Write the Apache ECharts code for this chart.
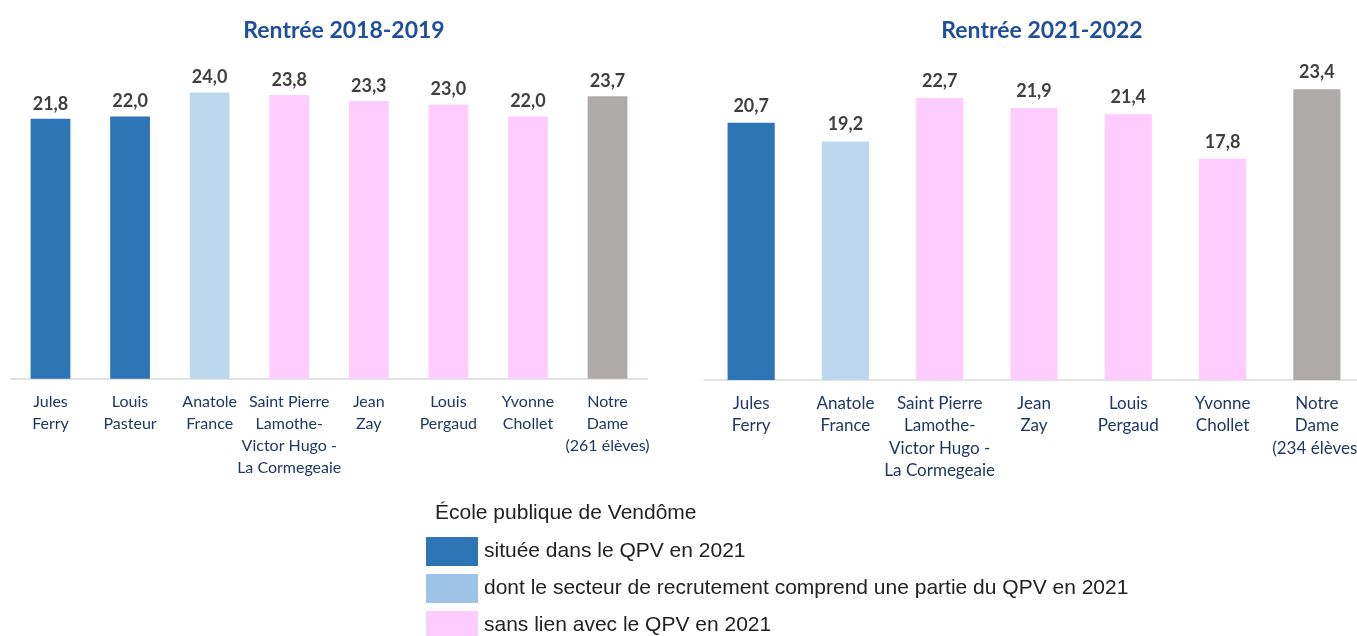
<!DOCTYPE html>
<html>
<head>
<meta charset="utf-8">
<script src="https://cdn.jsdelivr.net/npm/echarts@6/dist/echarts.min.js"></script>
<style>
  html, body { margin: 0; padding: 0; background: #fff; }
  #chart { width: 1357px; height: 636px; }
</style>
</head>
<body>
<div id="chart"></div>
<script>
// Rentrée 2018-2019
var cats2018 = ['Jules\nFerry', 'Louis\nPasteur', 'Anatole\nFrance', 'Saint Pierre\nLamothe-\nVictor Hugo -\nLa Cormegeaie', 'Jean\nZay', 'Louis\nPergaud', 'Yvonne\nChollet', 'Notre\nDame\n(261 élèves)'];
var vals2018 = [21.8, 22.0, 24.0, 23.8, 23.3, 23.0, 22.0, 23.7];
var groups2018 = ['qpv', 'qpv', 'partiel', 'sans', 'sans', 'sans', 'sans', 'prive'];

// Rentrée 2021-2022
var cats2021 = ['Jules\nFerry', 'Anatole\nFrance', 'Saint Pierre\nLamothe-\nVictor Hugo -\nLa Cormegeaie', 'Jean\nZay', 'Louis\nPergaud', 'Yvonne\nChollet', 'Notre\nDame\n(234 élèves)'];
var vals2021 = [20.7, 19.2, 22.7, 21.9, 21.4, 17.8, 23.4];
var groups2021 = ['qpv', 'partiel', 'sans', 'sans', 'sans', 'sans', 'prive'];

// légende
var legendTitle = 'École publique de Vendôme';
var legendItems = ['située dans le QPV en 2021', 'dont le secteur de recrutement comprend une partie du QPV en 2021', 'sans lien avec le QPV en 2021'];

// couleurs
var barColors = { qpv: '#2E75B6', partiel: '#BDD7EE', sans: '#FFCCFF', prive: '#AEAAAA' };
var legendColors = ['#2E75B6', '#9DC3E6', '#FFCCFF'];

var font = 'Lato, "Open Sans", sans-serif';
var legendFont = '21px "Liberation Sans", Arial, sans-serif';

function barData(vals, groups) {
    return vals.map(function (v, i) {
        return { value: v, itemStyle: { color: barColors[groups[i]] } };
    });
}

function xAxisOf(idx, cats, size, lh) {
    return {
        type: 'category',
        gridIndex: idx,
        data: cats,
        axisLine: { lineStyle: { color: '#D9D9D9', width: 1.5 } },
        axisTick: { length: 6, lineStyle: { color: '#D9D9D9', width: 1.5 } },
        axisLabel: {
            interval: 0,
            color: '#1F3864',
            fontFamily: font,
            fontSize: size,
            lineHeight: lh,
            margin: 12
        }
    };
}

function yAxisOf(idx) {
    return {
        type: 'value',
        gridIndex: idx,
        min: 0,
        max: 25,
        show: false,
        splitLine: { show: false }
    };
}

function seriesOf(idx, vals, groups, dist) {
    return {
        type: 'bar',
        xAxisIndex: idx,
        yAxisIndex: idx,
        barWidth: '50%',
        data: barData(vals, groups),
        label: {
            show: true,
            position: 'top',
            distance: dist,
            color: '#404040',
            fontFamily: font,
            fontWeight: 'bold',
            fontSize: 18,
            formatter: function (p) { return p.value.toFixed(1).replace('.', ','); }
        }
    };
}

// légende dessinée à la main
var graphics = [{
    type: 'text', x: 435, y: 513,
    style: { text: legendTitle, font: legendFont, fill: '#222', verticalAlign: 'middle' }
}];
legendItems.forEach(function (txt, i) {
    var y = 537 + i * 37;
    graphics.push({
        type: 'rect', shape: { x: 426, y: y, width: 52, height: 29 },
        style: { fill: legendColors[i] }
    });
    graphics.push({
        type: 'text', x: 484, y: y + 14,
        style: { text: txt, font: legendFont, fill: '#222', verticalAlign: 'middle' }
    });
});

var option = {
    animation: false,
    title: [
        { text: 'Rentrée 2018-2019', left: 339, top: 14, textAlign: 'center',
          textStyle: { color: '#1F4E9A', fontFamily: font, fontWeight: 'bold', fontSize: 23 } },
        { text: 'Rentrée 2021-2022', left: 1037, top: 14, textAlign: 'center',
          textStyle: { color: '#1F4E9A', fontFamily: font, fontWeight: 'bold', fontSize: 23 } }
    ],
    grid: [
        { left: 10.7, width: 636.6, top: 80.7, height: 298, outerBoundsMode: 'none' },
        { left: 704, width: 660, top: 69.4, height: 310.6, outerBoundsMode: 'none' }
    ],
    xAxis: [xAxisOf(0, cats2018, 16, 22), xAxisOf(1, cats2021, 17, 22.5)],
    yAxis: [yAxisOf(0), yAxisOf(1)],
    series: [seriesOf(0, vals2018, groups2018, 6), seriesOf(1, vals2021, groups2021, 8)],
    graphic: graphics
};

var chart = echarts.init(document.getElementById('chart'));
chart.setOption(option);
</script>
</body>
</html>
